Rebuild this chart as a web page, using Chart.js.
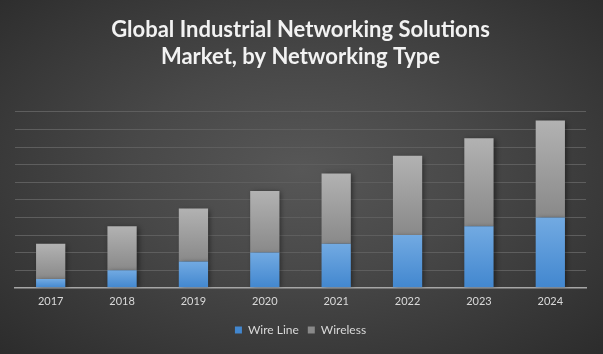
<!DOCTYPE html>
<html>
<head>
<meta charset="utf-8">
<script src="https://cdn.jsdelivr.net/npm/chart.js@4"></script>
<style>
  html, body { margin: 0; padding: 0; }
  body {
    width: 603px; height: 354px; overflow: hidden;
    background: radial-gradient(ellipse at 50% 48%, #575757 0%, #484848 40%, #2c2c2c 100%);
  }
  canvas { display: block; }
</style>
</head>
<body>
<canvas id="networkChart" width="603" height="354"></canvas>
<script>
const years = ["2017", "2018", "2019", "2020", "2021", "2022", "2023", "2024"];
const wireLine = [0.5, 1.0, 1.5, 2.0, 2.5, 3.0, 3.5, 4.0];
const wireless = [2.0, 2.5, 3.0, 3.5, 4.0, 4.5, 5.0, 5.5];

// each segment gets its own top-to-bottom gradient
function segmentFill(topColor, bottomColor, lower) {
  return (context) => {
    const chart = context.chart;
    const y = chart.scales.y;
    if (!chart.chartArea || !y || context.dataIndex === undefined) return bottomColor;
    const i = context.dataIndex;
    const from = lower ? lower[i] : 0;
    const to = from + context.dataset.data[i];
    const top = y.getPixelForValue(to);
    const bottom = y.getPixelForValue(from);
    if (!isFinite(top) || !isFinite(bottom) || top === bottom) return bottomColor;
    const g = chart.ctx.createLinearGradient(0, top, 0, bottom);
    g.addColorStop(0, topColor);
    g.addColorStop(1, bottomColor);
    return g;
  };
}

const barShadow = {
  id: "barShadow",
  beforeDatasetDraw(chart) {
    const ctx = chart.ctx;
    ctx.save();
    ctx.shadowColor = "rgba(0,0,0,0.45)";
    ctx.shadowBlur = 5;
    ctx.shadowOffsetX = 2;
    ctx.shadowOffsetY = 1;
  },
  afterDatasetDraw(chart) {
    chart.ctx.restore();
  },
};

const ctx = document.querySelector("#networkChart");

new Chart(ctx, {
  type: "bar",
  data: {
    labels: years,
    datasets: [
      {
        label: "Wire Line",
        data: wireLine,
        backgroundColor: segmentFill("#72aae2", "#4287cf"),
        borderWidth: 0,
      },
      {
        label: "Wireless",
        data: wireless,
        backgroundColor: segmentFill("#b2b2b2", "#898989", wireLine),
        borderWidth: 0,
      },
    ],
  },
  plugins: [barShadow],
  options: {
    responsive: false,
    animation: false,
    devicePixelRatio: 1,
    layout: { padding: { left: 15, right: 17, top: 10, bottom: 8 } },
    datasets: { bar: { categoryPercentage: 1, barPercentage: 0.41 } },
    scales: {
      x: {
        stacked: true,
        grid: { display: false, drawTicks: false },
        border: { color: "#a6a6a6", width: 1.5 },
        ticks: { color: "#d9d9d9", font: { family: "Lato", size: 11 }, padding: 7 },
      },
      y: {
        stacked: true,
        min: 0,
        max: 10,
        ticks: { display: false, stepSize: 1 },
        grid: { color: "#5e5e5e", lineWidth: 1, drawTicks: false },
        border: { display: false },
      },
    },
    plugins: {
      title: {
        display: true,
        text: ["Global Industrial Networking Solutions", "Market, by Networking Type"],
        color: "#f2f2f2",
        font: { family: "Lato", size: 22, weight: "bold", lineHeight: 1.2 },
        padding: { top: 7, bottom: 42 },
      },
      legend: {
        position: "bottom",
        labels: {
          color: "#d9d9d9",
          font: { family: "Lato", size: 12 },
          boxWidth: 7,
          boxHeight: 7,
          padding: 9,
        },
      },
      tooltip: { enabled: false },
    },
  },
});
</script>
</body>
</html>
